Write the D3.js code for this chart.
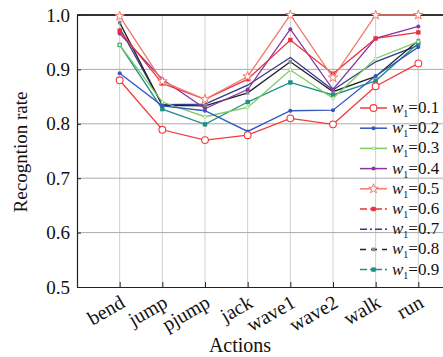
<!DOCTYPE html>
<html>
<head>
<meta charset="utf-8">
<script src="https://cdn.jsdelivr.net/npm/d3@7"></script>
<style>
  html, body { margin: 0; padding: 0; background: #fff; overflow: hidden; }
  svg { display: block; font-family: "Liberation Serif", "DejaVu Serif", serif; }
</style>
</head>
<body>
<svg id="chart" width="443" height="357"></svg>
<script>
// Actions on the x axis
const actions = ["bend", "jump", "pjump", "jack", "wave1", "wave2", "walk", "run"];
// Weight values w1 for each curve
const weights = ["0.1", "0.2", "0.3", "0.4", "0.5", "0.6", "0.7", "0.8", "0.9"];
// Recognition rate per action, one array per weight
const rate_w01 = [0.880, 0.789, 0.770, 0.779, 0.810, 0.799, 0.869, 0.911];
const rate_w02 = [0.893, 0.833, 0.824, 0.786, 0.824, 0.825, 0.888, 0.941];
const rate_w03 = [0.945, 0.840, 0.813, 0.830, 0.899, 0.847, 0.920, 0.951];
const rate_w04 = [0.966, 0.882, 0.828, 0.863, 0.974, 0.863, 0.957, 0.979];
const rate_w05 = [0.998, 0.878, 0.845, 0.887, 1.000, 0.885, 1.000, 1.000];
const rate_w06 = [0.971, 0.874, 0.845, 0.882, 0.954, 0.892, 0.957, 0.968];
const rate_w07 = [0.976, 0.835, 0.836, 0.871, 0.922, 0.862, 0.914, 0.944];
const rate_w08 = [0.986, 0.834, 0.833, 0.857, 0.914, 0.859, 0.887, 0.953];
const rate_w09 = [0.945, 0.827, 0.799, 0.840, 0.876, 0.853, 0.879, 0.948];
// Y axis ticks
const yTicks = [0.5, 0.6, 0.7, 0.8, 0.9, 1.0];

const seriesValues = [rate_w01, rate_w02, rate_w03, rate_w04, rate_w05, rate_w06, rate_w07, rate_w08, rate_w09];

// Visual style for each curve
const styles = [
  { color: "#f23b3b", marker: "circle", dash: null },
  { color: "#3756be", marker: "dot", dash: null },
  { color: "#7ccb5c", marker: "wdot", dash: null },
  { color: "#8a35a3", marker: "dot", dash: null },
  { color: "#f27a6c", marker: "star", dash: null },
  { color: "#e8323e", marker: "square", dash: "7,3,2,3" },
  { color: "#2f3a8e", marker: "none", dash: "7,3,2,3" },
  { color: "#222222", marker: "gsquare", dash: "6,5" },
  { color: "#1f8f88", marker: "square", dash: "7,3,2,3" }
];

const svg = d3.select("#chart");
const plotLeft = 77, plotTop = 15, plotBottom = 287, plotRightEnd = 461;

const x = d3.scalePoint().domain(actions).range([plotLeft, plotRightEnd]).padding(1);
const y = d3.scaleLinear().domain([0.5, 1.0]).range([plotBottom, plotTop]);

// Grid
const grid = svg.append("g");
grid.selectAll("line.v").data(actions).enter().append("line")
  .attr("x1", d => x(d)).attr("x2", d => x(d))
  .attr("y1", plotTop).attr("y2", plotBottom)
  .attr("stroke", "#cfcfcf").attr("stroke-width", 1);
grid.selectAll("line.h").data(yTicks.filter(v => v > 0.5 && v < 1.0)).enter().append("line")
  .attr("x1", plotLeft).attr("x2", 443)
  .attr("y1", d => y(d)).attr("y2", d => y(d))
  .attr("stroke", "#aaaaaa").attr("stroke-width", 1);

// Top frame line
svg.append("line").attr("x1", plotLeft).attr("x2", 443)
  .attr("y1", y(1.0)).attr("y2", y(1.0))
  .attr("stroke", "#333").attr("stroke-width", 2);

// Axes
const yAxis = d3.axisLeft(y).tickValues(yTicks).tickFormat(d3.format(".1f")).tickSizeInner(-4).tickSizeOuter(0).tickPadding(7);
const gy = svg.append("g").attr("transform", `translate(${plotLeft},0)`).call(yAxis);
gy.select(".domain").attr("stroke", "#222").attr("stroke-width", 1.2);
gy.selectAll(".tick line").attr("stroke", "#222");
gy.selectAll("text").attr("font-size", 19).attr("fill", "#111")
  .attr("font-family", "Liberation Serif, serif");

const xAxis = d3.axisBottom(x).tickSizeInner(-5).tickSizeOuter(0).tickPadding(6);
const gx = svg.append("g").attr("transform", `translate(0,${plotBottom})`).call(xAxis);
gx.select(".domain").attr("stroke", "#222").attr("stroke-width", 1.2);
gx.selectAll(".tick line").attr("stroke", "#222");
gx.selectAll("text")
  .attr("font-size", 20).attr("fill", "#111")
  .attr("font-family", "Liberation Serif, serif")
  .attr("text-anchor", "end")
  .attr("dy", 0)
  .attr("transform", "translate(3,14) rotate(-30)");

// Axis titles
svg.append("text").attr("x", 240).attr("y", 352).attr("text-anchor", "middle")
  .attr("font-size", 20).attr("fill", "#111").text("Actions");
svg.append("text").attr("transform", "translate(27,152) rotate(-90)")
  .attr("text-anchor", "middle").attr("font-size", 19).attr("fill", "#111").text("Recogntion rate");

// Marker drawing
const starPath = d3.symbol().type(d3.symbolStar).size(28);
function drawMarker(g, kind, color, cx, cy) {
  if (kind === "circle") {
    g.append("circle").attr("cx", cx).attr("cy", cy).attr("r", 3.4)
      .attr("fill", "#fff").attr("stroke", color).attr("stroke-width", 1.1);
  } else if (kind === "dot") {
    g.append("circle").attr("cx", cx).attr("cy", cy).attr("r", 2).attr("fill", color);
  } else if (kind === "wdot") {
    g.append("circle").attr("cx", cx).attr("cy", cy).attr("r", 1.4)
      .attr("fill", "#fff").attr("stroke", color).attr("stroke-width", 0.7);
  } else if (kind === "star") {
    g.append("path").attr("d", starPath()).attr("transform", `translate(${cx},${cy})`)
      .attr("fill", "#fff").attr("stroke", color).attr("stroke-width", 1);
  } else if (kind === "square") {
    g.append("rect").attr("x", cx - 2.2).attr("y", cy - 2.2).attr("width", 4.4).attr("height", 4.4).attr("fill", color);
  } else if (kind === "gsquare") {
    g.append("rect").attr("x", cx - 1.8).attr("y", cy - 1.8).attr("width", 3.6).attr("height", 3.6).attr("fill", "#888");
  }
}

// Curves
const line = d3.line().x((d, i) => x(actions[i])).y(d => y(d));
const order = [6, 7, 8, 2, 1, 3, 5, 4, 0];
order.forEach(k => {
  const g = svg.append("g");
  g.append("path").datum(seriesValues[k]).attr("d", line)
    .attr("fill", "none").attr("stroke", styles[k].color).attr("stroke-width", 1.3);
  seriesValues[k].forEach((v, i) => drawMarker(g, styles[k].marker, styles[k].color, x(actions[i]), y(v)));
});

// Legend
const leg = svg.append("g");
weights.forEach((w, i) => {
  const ly = 108 + i * 20.2;
  const st = styles[i];
  leg.append("line").attr("x1", 360).attr("x2", 387).attr("y1", ly).attr("y2", ly)
    .attr("stroke", st.color).attr("stroke-width", 1.5)
    .attr("stroke-dasharray", st.dash);
  drawMarker(leg, st.marker, st.color, 373.5, ly);
  const t = leg.append("text").attr("x", 392).attr("y", ly + 5).attr("font-size", 17).attr("fill", "#111");
  t.append("tspan").attr("font-style", "italic").text("w");
  t.append("tspan").attr("font-size", 10).attr("dy", 4).text("1");
  t.append("tspan").attr("dy", -4).text("=" + w);
});
</script>
</body>
</html>
